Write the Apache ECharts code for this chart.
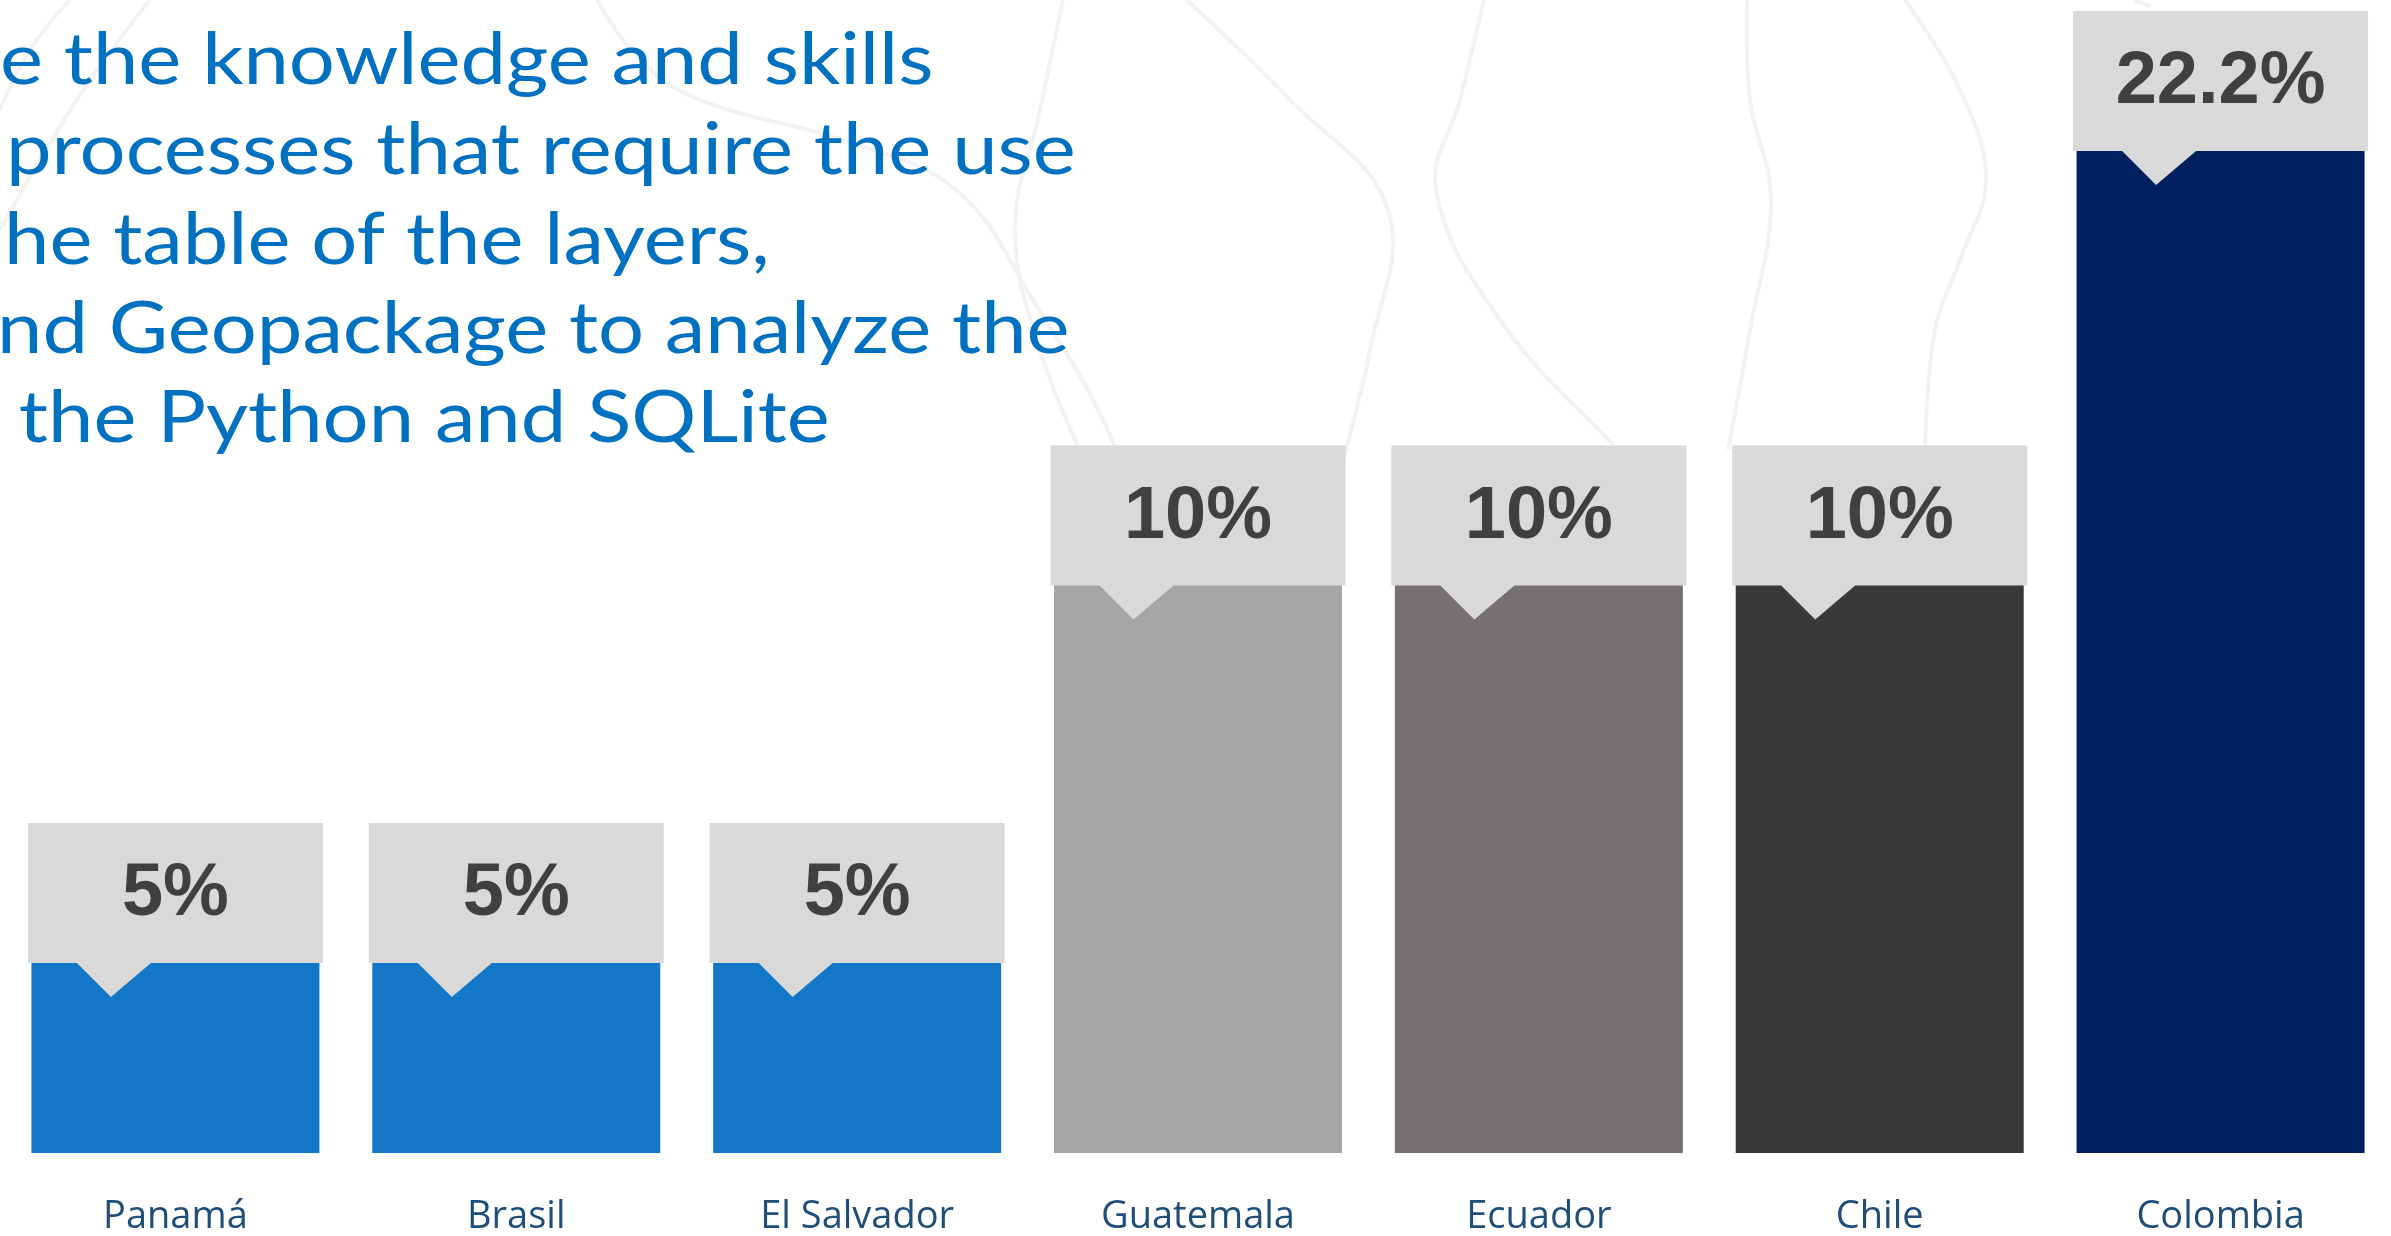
<!DOCTYPE html>
<html>
<head>
<meta charset="utf-8">
<script src="https://cdn.jsdelivr.net/npm/echarts@6/dist/echarts.min.js"></script>
<style>
  html, body { margin: 0; padding: 0; background: #ffffff; }
  #chart { width: 2391px; height: 1236px; }
</style>
</head>
<body>
<div id="chart"></div>
<script>
// ---------- data ----------
const countries = ['Panamá', 'Brasil', 'El Salvador', 'Guatemala', 'Ecuador', 'Chile', 'Colombia'];
const shares = [5, 5, 5, 10, 10, 10, 22.2];
const barColors = ['#1477c7', '#1477c7', '#1477c7', '#a6a6a6', '#767171', '#3a3838', '#002060'];
const titleLines = [
  'e the knowledge and skills',
  'processes that require the use',
  'he table of the layers,',
  'nd Geopackage to analyze the',
  ' the Python and SQLite'
];
const yMin = 3.4;
const yMax = 22.2;

// ---------- layout constants ----------
const BOX_W = 295, BOX_H = 140, TRI_L = 49, TRI_TIP = 83, TRI_R = 123, TRI_D = 34, BOX_DROP = 20;
const titleX = [0, 6, 4, -3, -2];
const titleBaseY = [85, 175, 265, 354, 443];
const TITLE_FS = 72;
const TITLE_SX = 1.13;

const chart = echarts.init(document.getElementById('chart'), null, { renderer: 'canvas' });

// faint decorative contour lines
const bgCurves = [
  [[0, 110], [30, 50], [70, 0]],
  [[150, 0], [90, 80], [40, 160], [0, 230]],
  [[597, 0], [640, 60], [700, 100], [842, 140], [956, 190], [1033, 300], [1109, 433], [1150, 560]],
  [[1063, 0], [1040, 110], [1015, 230], [1040, 350], [1082, 455]],
  [[1187, 0], [1290, 100], [1388, 210], [1370, 350], [1340, 470]],
  [[1484, 0], [1460, 100], [1436, 190], [1500, 320], [1618, 450], [1650, 480]],
  [[1747, 0], [1750, 100], [1771, 200], [1750, 330], [1728, 450]],
  [[1905, 0], [1960, 90], [1986, 180], [1960, 260], [1935, 330], [1925, 450]],
  [[2134, 0], [2150, 6]]
];

const graphics = [];
bgCurves.forEach(function (pts) {
  graphics.push({
    type: 'polyline', z: 0, silent: true,
    shape: { points: pts, smooth: 0.4 },
    style: { stroke: '#f2f2f2', lineWidth: 4, fill: null }
  });
});
titleLines.forEach(function (t, i) {
  graphics.push({
    type: 'text', z: 10,
    x: titleX[i],
    y: titleBaseY[i] - Math.round(TITLE_FS * 0.33),
    scaleX: TITLE_SX,
    style: {
      text: t,
      fill: '#0070c0', fontSize: TITLE_FS, fontFamily: 'Lato', fontWeight: 'normal',
      verticalAlign: 'middle', align: 'left'
    }
  });
});

const option = {
  backgroundColor: '#ffffff',
  animation: false,
  grid: { left: 5, width: 2393, top: 131, bottom: 81, containLabel: false },
  xAxis: {
    type: 'category',
    data: countries,
    axisLine: { show: false },
    axisTick: { show: false },
    splitLine: { show: false },
    axisLabel: { color: '#1f4e79', fontSize: 38, fontFamily: 'Open Sans', margin: 45, interval: 0 }
  },
  yAxis: {
    type: 'log',
    logBase: 10,
    min: yMin,
    max: yMax,
    startValue: yMin,
    show: false,
    splitLine: { show: false }
  },
  graphic: graphics,
  series: [
    {
      type: 'bar',
      z: 2,
      clip: true,
      barWidth: 288,
      data: shares.map(function (v, i) { return { value: v, itemStyle: { color: barColors[i] } }; })
    },
    {
      type: 'custom',
      z: 5,
      data: shares.map(function (v, i) { return [i, v]; }),
      encode: { x: 0, y: 1 },
      renderItem: function (params, api) {
        const p = api.coord([api.value(0), api.value(1)]);
        const cx = p[0];
        const bb = p[1] + BOX_DROP;
        const bt = bb - BOX_H;
        const bl = cx - BOX_W / 2;
        return {
          type: 'group',
          children: [
            {
              type: 'polygon',
              shape: { points: [[bl, bt], [bl + BOX_W, bt], [bl + BOX_W, bb], [bl + TRI_R, bb], [bl + TRI_TIP, bb + TRI_D], [bl + TRI_L, bb], [bl, bb]] },
              style: { fill: '#d9d9d9' }
            },
            {
              type: 'text',
              style: {
                text: api.value(1) + '%',
                x: cx, y: (bt + bb) / 2 + 2,
                align: 'center', verticalAlign: 'middle',
                fill: '#404040', fontSize: 74, fontWeight: 'bold', fontFamily: 'Liberation Sans'
              }
            }
          ]
        };
      }
    }
  ]
};
chart.setOption(option);
</script>
</body>
</html>
